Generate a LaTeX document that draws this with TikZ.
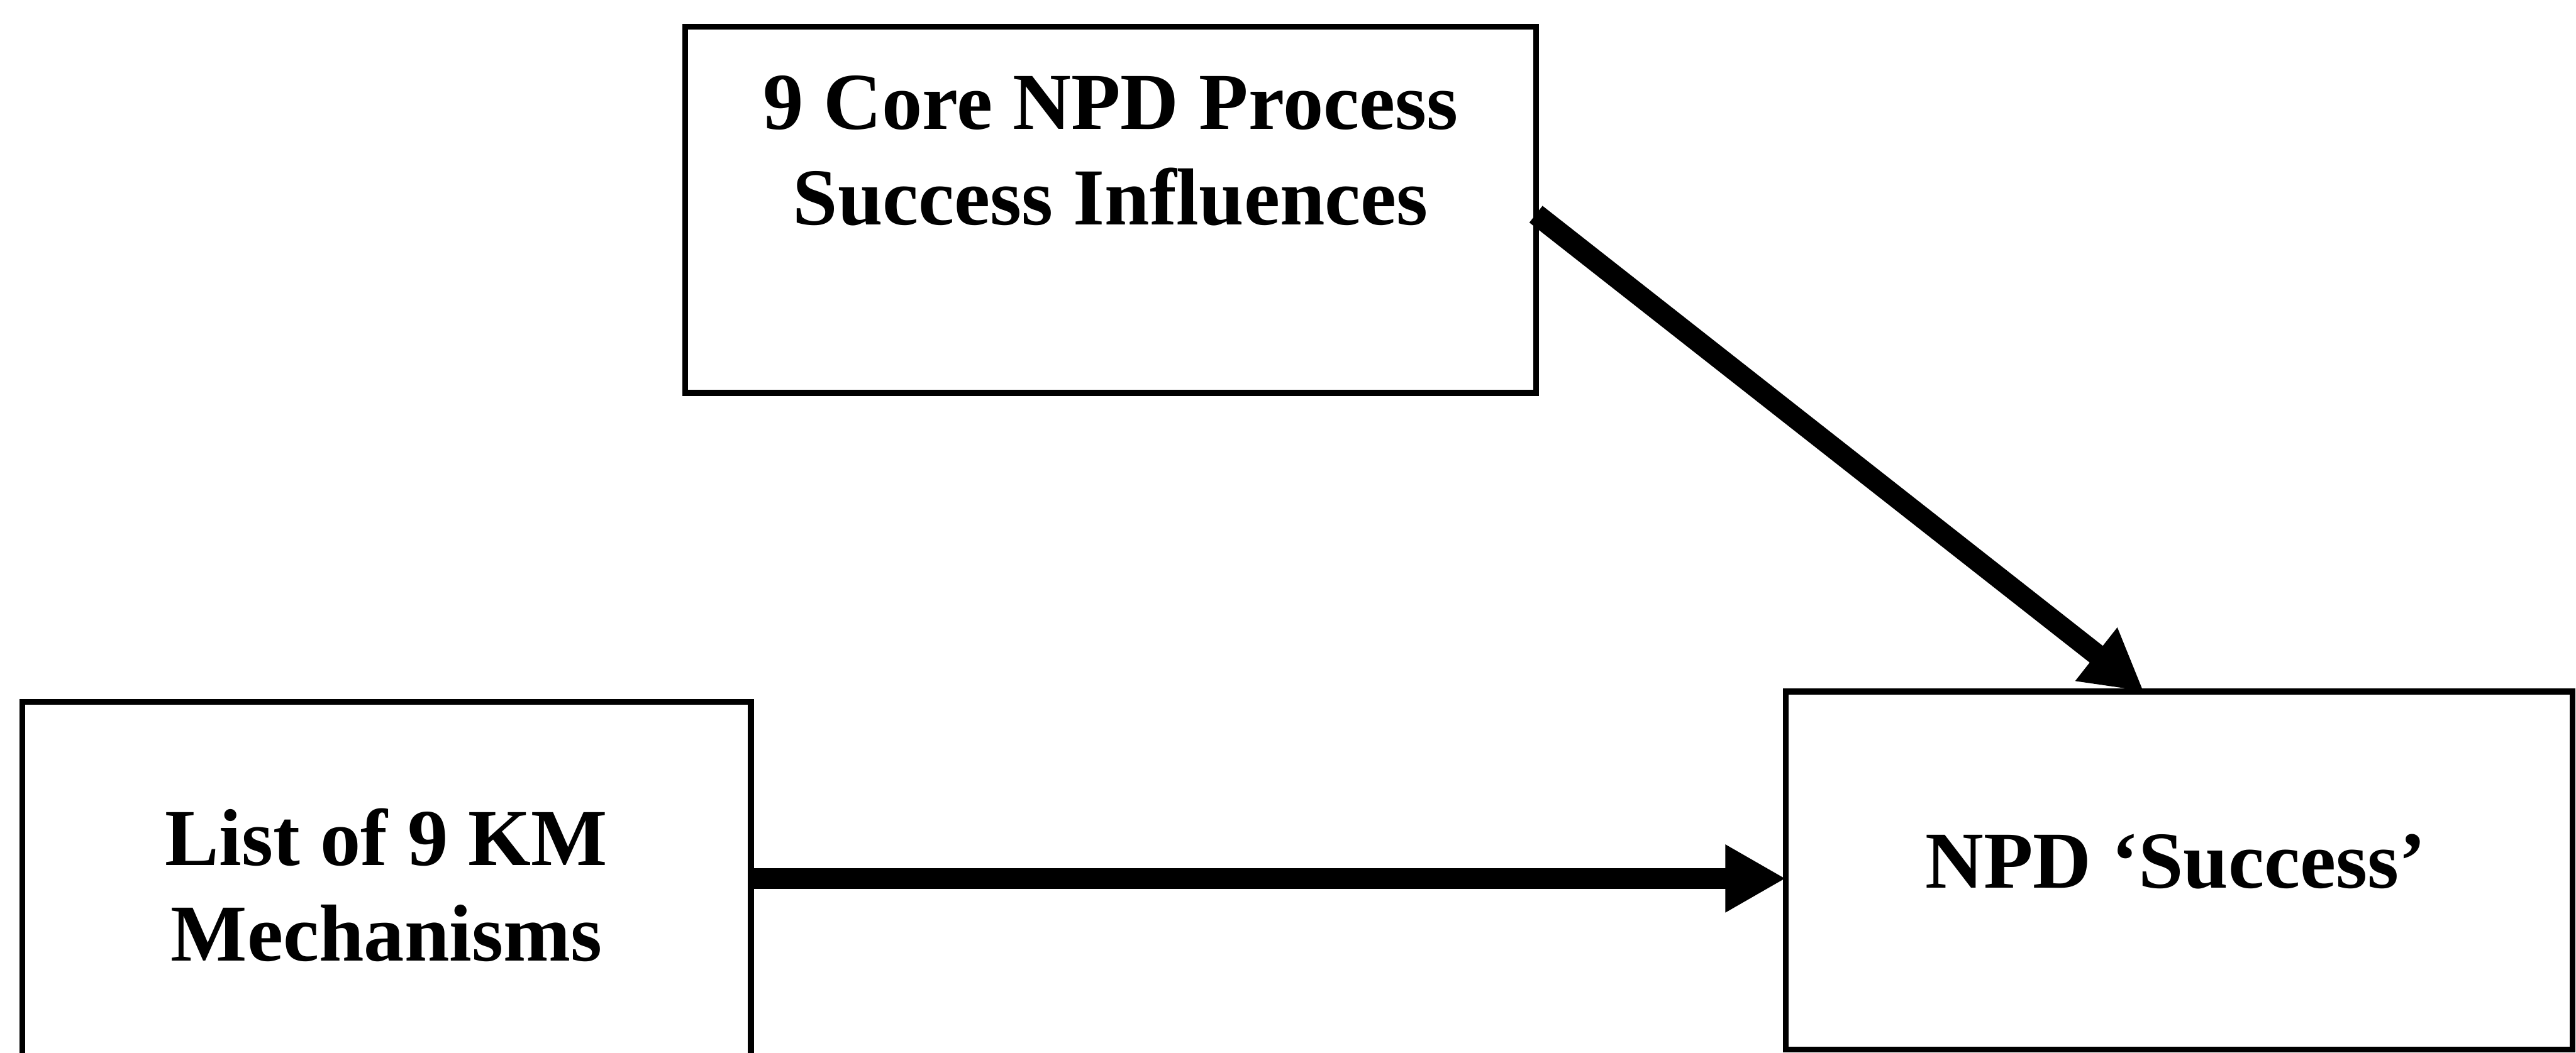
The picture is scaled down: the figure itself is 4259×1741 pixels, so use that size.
\documentclass[tikz,border=0pt]{standalone}
\usepackage{fontspec}
\setmainfont{Liberation Serif}
\usetikzlibrary{arrows.meta,calc}
\begin{document}
\begin{tikzpicture}[x=0.01cm,y=-0.01cm]
\tikzset{
  frame/.style={draw=black, line width=2.8pt, inner sep=0pt, outer sep=0pt},
  caption/.style={font=\fontsize{38}{45}\selectfont\bfseries, align=center, inner sep=0pt},
  flow/.style={draw=black, line width=10pt, -{Triangle[length=1cm,width=1.05cm]}}
}
\useasboundingbox (0,0) rectangle (4259,1741);
\clip (0,0) rectangle (4259,1741);

% boxes
\node[frame, minimum width=14.06cm, minimum height=6.05cm] (tbox) at (1836,347) {};
\node[frame, minimum width=12.04cm, minimum height=6.18cm] (lbox) at (639,1470) {};
\node[frame, minimum width=13.00cm, minimum height=5.92cm] (rbox) at (3603,1440) {};

% box texts
\node[caption] (ttext) at (1836,249) {9 Core NPD Process\\Success Influences};
\node[caption] (ltext) at (639,1464) {List of 9 KM\\Mechanisms};
\node[caption] (rtext) at (3597,1425) {NPD ‘Success’};

% connectors
\coordinate (hrow) at (0,1453);
\draw[flow] (lbox.east |- hrow) -- (rbox.west |- hrow);
\draw[flow] ($(tbox.north east)!0.512!(tbox.south east)$) -- ($(rbox.north west)!0.455!(rbox.north east)$);
\end{tikzpicture}
\end{document}
